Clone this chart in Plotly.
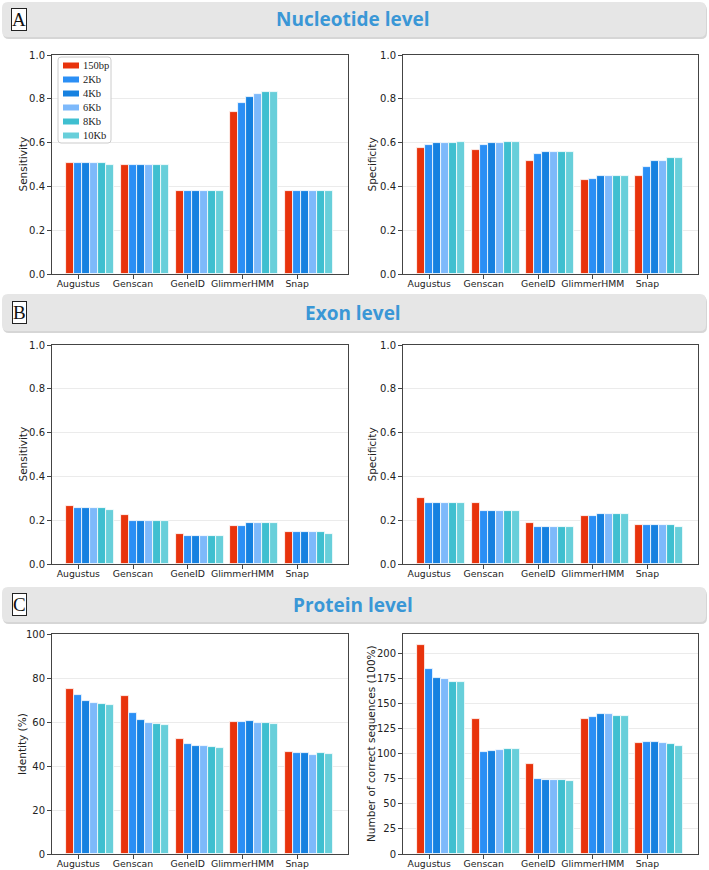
import plotly.graph_objects as go

W, H = 709, 870

tools = ["Augustus", "Genscan", "GeneID", "GlimmerHMM", "Snap"]
sizes = ["150bp", "2Kb", "4Kb", "6Kb", "8Kb", "10Kb"]
colors = ["#e8330c", "#2b8ff5", "#1681e0", "#7db9fb", "#3fbfd0", "#68cfda"]

# rows = window sizes, columns = tools
nuc_sens = [
    [0.506, 0.498, 0.377, 0.740, 0.377],
    [0.506, 0.498, 0.377, 0.780, 0.377],
    [0.506, 0.498, 0.377, 0.810, 0.377],
    [0.505, 0.498, 0.377, 0.822, 0.377],
    [0.506, 0.498, 0.377, 0.833, 0.377],
    [0.498, 0.498, 0.377, 0.833, 0.377],
]
nuc_spec = [
    [0.576, 0.566, 0.516, 0.428, 0.446],
    [0.588, 0.588, 0.546, 0.436, 0.487],
    [0.597, 0.597, 0.557, 0.446, 0.517],
    [0.597, 0.597, 0.557, 0.446, 0.517],
    [0.597, 0.605, 0.557, 0.446, 0.528],
    [0.605, 0.605, 0.557, 0.446, 0.528],
]
exon_sens = [
    [0.267, 0.226, 0.136, 0.174, 0.145],
    [0.256, 0.197, 0.126, 0.174, 0.145],
    [0.256, 0.197, 0.126, 0.185, 0.145],
    [0.256, 0.197, 0.126, 0.185, 0.145],
    [0.256, 0.197, 0.126, 0.185, 0.145],
    [0.245, 0.197, 0.126, 0.185, 0.136],
]
exon_spec = [
    [0.301, 0.278, 0.189, 0.220, 0.179],
    [0.278, 0.240, 0.171, 0.220, 0.179],
    [0.278, 0.240, 0.171, 0.229, 0.179],
    [0.278, 0.240, 0.171, 0.229, 0.179],
    [0.278, 0.240, 0.171, 0.229, 0.179],
    [0.278, 0.240, 0.171, 0.229, 0.171],
]
prot_identity = [
    [75.2, 71.7, 52.4, 60.0, 46.4],
    [72.4, 64.1, 50.2, 60.0, 46.1],
    [69.4, 61.0, 49.3, 60.3, 45.8],
    [68.6, 59.7, 48.9, 59.7, 45.2],
    [68.0, 59.1, 48.7, 59.4, 45.7],
    [67.6, 58.6, 48.4, 59.1, 45.4],
]
prot_correct = [
    [209, 135, 90, 135, 111],
    [185, 102, 75, 137, 112],
    [176, 103, 74, 140, 112],
    [175, 104, 74, 140, 111],
    [172, 105, 74, 138, 110],
    [172, 105, 73, 138, 108],
]

section_titles = ["Nucleotide level", "Exon level", "Protein level"]
section_letters = ["A", "B", "C"]
y_titles = ["Sensitivity", "Specificity", "Sensitivity", "Specificity",
            "Identity (%)", "Number of correct sequences (100%)"]
panels = [nuc_sens, nuc_spec, exon_sens, exon_spec, prot_identity, prot_correct]

# layout geometry in pixels
col_x = [(52, 348), (403, 698)]
title_x = [22, 371]
row_y = [(55, 274), (345, 564), (634, 854)]
header_y = [(2, 37), (294, 331), (587, 622)]

bw = 0.146
xr = [-0.70, 4.71]
y_ranges = [[0, 1], [0, 1], [0, 1], [0, 1], [0, 100], [0, 219.5]]
y_dticks = [0.2, 0.2, 0.2, 0.2, 20, 25]
y_fmt = [".1f", ".1f", ".1f", ".1f", "d", "d"]

fig = go.Figure()
layout = dict(
    width=W, height=H, margin=dict(l=0, r=0, t=0, b=0, autoexpand=False),
    paper_bgcolor="white", plot_bgcolor="white",
    barmode="overlay", bargap=0,
    font=dict(family="DejaVu Sans", size=10, color="#333333"),
    showlegend=False,
)

shapes = []
annotations = []

for p, data in enumerate(panels):
    r, c = divmod(p, 2)
    idx = p + 1
    xa = "x" if idx == 1 else f"x{idx}"
    ya = "y" if idx == 1 else f"y{idx}"
    for j, s in enumerate(sizes):
        xs = [i + (j - 2.5) * bw for i in range(len(tools))]
        fig.add_trace(go.Bar(
            x=xs, y=data[j], width=bw, name=s, xaxis=xa, yaxis=ya,
            marker=dict(color=colors[j], line=dict(color="white", width=0.8)),
            legendgroup=s,
        ))
    x0, x1 = col_x[c]
    y0, y1 = row_y[r]
    axkey = "xaxis" if idx == 1 else f"xaxis{idx}"
    aykey = "yaxis" if idx == 1 else f"yaxis{idx}"
    layout[axkey] = dict(
        domain=[x0 / W, x1 / W], anchor=ya, range=xr, automargin=False,
        tickvals=[i - 1.5 * bw for i in range(len(tools))], ticktext=tools,
        tickangle=0, ticklabelstandoff=-3,
        ticks="outside", ticklen=4, tickcolor="#444", showgrid=False,
        showline=True, linecolor="#444", linewidth=1, mirror=True,
        zeroline=False, tickfont=dict(size=9.3, color="#222"),
    )
    layout[aykey] = dict(
        domain=[1 - y1 / H, 1 - y0 / H], anchor=xa, range=y_ranges[p],
        automargin=False,
        dtick=y_dticks[p], tick0=0, tickformat=y_fmt[p],
        ticks="outside", ticklen=4, tickcolor="#444",
        showgrid=True, gridcolor="#ebebeb", gridwidth=1,
        showline=True, linecolor="#444", linewidth=1, mirror=True,
        zeroline=False, tickfont=dict(size=10, color="#222"),
    )
    # y-axis title
    annotations.append(dict(
        x=title_x[c] / W, y=1 - (y0 + y1) / 2 / H, xref="paper", yref="paper",
        text=y_titles[p], textangle=-90, showarrow=False,
        xanchor="center", yanchor="middle",
        font=dict(family="DejaVu Sans", size=10.5, color="#222"),
    ))


def rrect(xa, ya, xb, yb, rad):
    # rounded rectangle path in paper coords from pixel coords
    def px(x):
        return x / W

    def py(y):
        return 1 - y / H
    return (f"M {px(xa + rad)} {py(ya)} L {px(xb - rad)} {py(ya)} "
            f"Q {px(xb)} {py(ya)} {px(xb)} {py(ya + rad)} "
            f"L {px(xb)} {py(yb - rad)} Q {px(xb)} {py(yb)} {px(xb - rad)} {py(yb)} "
            f"L {px(xa + rad)} {py(yb)} Q {px(xa)} {py(yb)} {px(xa)} {py(yb - rad)} "
            f"L {px(xa)} {py(ya + rad)} Q {px(xa)} {py(ya)} {px(xa + rad)} {py(ya)} Z")


for k, (hy0, hy1) in enumerate(header_y):
    shapes.append(dict(type="path", xref="paper", yref="paper",
                       path=rrect(3, hy0 + 2, 707, hy1 + 2, 6),
                       fillcolor="#d6d6d6", line=dict(width=0), layer="below"))
    shapes.append(dict(type="path", xref="paper", yref="paper",
                       path=rrect(2, hy0, 706, hy1, 6),
                       fillcolor="#e6e6e6", line=dict(width=0), layer="below"))
    annotations.append(dict(
        x=353 / W, y=1 - (hy0 + hy1) / 2 / H, xref="paper", yref="paper",
        text=f"<b>{section_titles[k]}</b>", showarrow=False,
        xanchor="center", yanchor="middle",
        font=dict(family="Open Sans", size=19, color="#3a97d6"),
    ))
    annotations.append(dict(
        x=19 / W, y=1 - (hy0 + hy1) / 2 / H, xref="paper", yref="paper",
        text=section_letters[k], showarrow=False,
        xanchor="center", yanchor="middle",
        font=dict(family="Liberation Serif", size=19, color="#111"),
        bgcolor="white", bordercolor="#222", borderwidth=1, borderpad=0,
    ))

# compact legend (matplotlib style) inside the first panel
lg_x0, lg_y0, lg_x1, lg_y1 = 58, 57, 111, 143
lg_step = 14
shapes.append(dict(type="path", xref="paper", yref="paper",
                   path=rrect(lg_x0, lg_y0, lg_x1, lg_y1, 3),
                   fillcolor="rgba(255,255,255,0.9)",
                   line=dict(color="#cccccc", width=1), layer="above"))
for j, s in enumerate(sizes):
    cy = lg_y0 + 8.5 + j * lg_step
    shapes.append(dict(type="rect", xref="paper", yref="paper",
                       x0=63 / W, x1=79 / W, y0=1 - (cy + 3) / H, y1=1 - (cy - 3) / H,
                       fillcolor=colors[j], line=dict(width=0), layer="above"))
    annotations.append(dict(
        x=81 / W, y=1 - cy / H, xref="paper", yref="paper", text=s,
        showarrow=False, xanchor="left", yanchor="middle",
        font=dict(family="Liberation Serif", size=10.5, color="#222"),
    ))

layout["shapes"] = shapes
layout["annotations"] = annotations
fig.update_layout(**layout)
fig.write_html("out.html",
               config={"displayModeBar": False},
               post_script="document.body.style.margin='0px';"
                           "document.body.style.overflow='hidden';")
